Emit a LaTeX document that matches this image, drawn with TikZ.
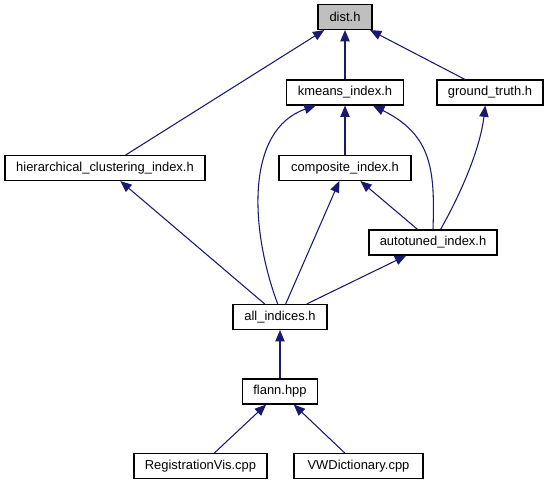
\documentclass[tikz,border=0pt]{standalone}
\usepackage{fontspec}
\setmainfont{Liberation Sans}
\usetikzlibrary{arrows.meta}
\definecolor{edgeblue}{RGB}{25,25,112}
\begin{document}
\begin{tikzpicture}[x=0.75pt,y=-0.75pt]
    % Define style for files and includes
    \tikzstyle{file} = [draw, rectangle, line width=0.8pt, minimum height=18.75pt, inner sep=0pt, font=\fontsize{9.7}{11}\selectfont]
    \tikzstyle{curfile} = [file, fill=gray!50]
    \tikzstyle{dep} = [draw=edgeblue, line width=0.8pt, -{Triangle[length=8.5pt,width=7pt]}]

    \useasboundingbox (0,0) rectangle (547,485);

    % Draw the files
    \node(dist)[curfile, minimum width=40.5pt] at (345,17) {dist.h};
    \node(kmeans)[file, minimum width=87.75pt] at (345,92.5) {kmeans\_index.h};
    \node(ground)[file, minimum width=79.5pt] at (490,92.5) {ground\_truth.h};
    \node(hier)[file, minimum width=150pt] at (105,168) {hierarchical\_clustering\_index.h};
    \node(composite)[file, minimum width=99pt] at (345,168) {composite\_index.h};
    \node(autotuned)[file, minimum width=96pt] at (433,242.5) {autotuned\_index.h};
    \node(all)[file, minimum width=70.5pt] at (280,317) {all\_indices.h};
    \node(flann)[file, minimum width=56.25pt] at (280,391.5) {flann.hpp};
    \node(regvis)[file, minimum width=99.75pt] at (200.5,466) {RegistrationVis.cpp};
    \node(vwdict)[file, minimum width=96.75pt] at (358.5,466) {VWDictionary.cpp};

    % Draw the includes
    \draw[dep] (kmeans) -- (dist);
    \draw[dep] (ground) -- (dist);
    \draw[dep] (hier) -- (dist);
    \draw[dep] (composite) -- (kmeans);
    \draw[dep] (all.100) .. controls (250,230) and (245,130) .. (kmeans.204);
    \draw[dep] (autotuned.north) .. controls (435,170) and (432,135) .. (kmeans.-25);
    \draw[dep] (autotuned.60) .. controls (460,195) and (480,150) .. (ground.-110);
    \draw[dep] (autotuned) -- (composite);
    \draw[dep] (all) -- (composite);
    \draw[dep] (all) -- (autotuned);
    \draw[dep] (all) -- (hier);
    \draw[dep] (flann) -- (all);
    \draw[dep] (regvis) -- (flann);
    \draw[dep] (vwdict) -- (flann);
  \end{tikzpicture}
\end{document}
